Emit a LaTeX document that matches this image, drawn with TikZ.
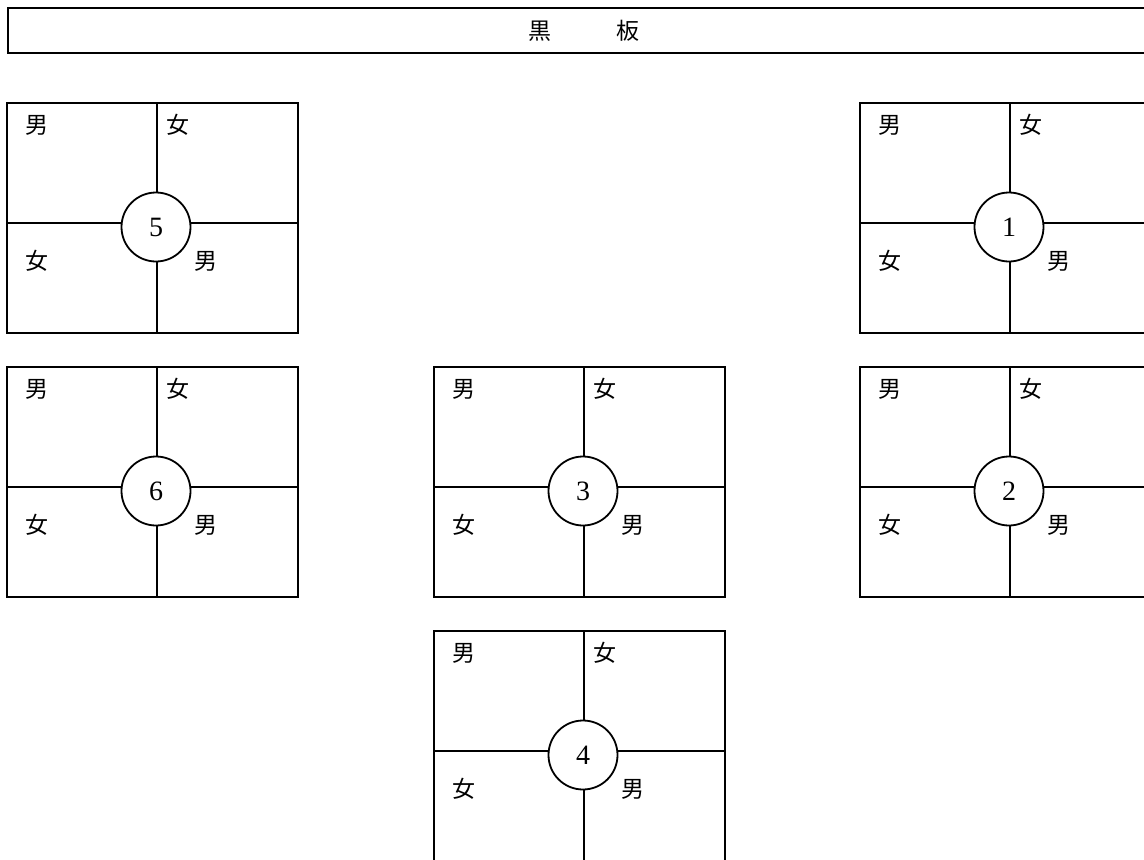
\documentclass[tikz,border=0pt]{standalone}
\usepackage{fontspec}
\newfontfamily\cjk{Noto Sans CJK JP}
\newfontfamily\numfont{Liberation Serif}
\tikzset{
  rule/.style={line width=1.8pt},
  seatlabel/.style={font=\cjk\fontsize{23}{23}\selectfont, inner sep=0pt},
  numcircle/.style={circle, draw, fill=white, line width=1.8pt, minimum size=69pt, inner sep=0pt, font=\numfont\fontsize{28}{28}\selectfont},
  boardbox/.style={draw, line width=2pt, minimum width=1152pt, minimum height=45pt, inner sep=0pt, anchor=north west, font=\cjk\fontsize{23}{23}\selectfont}
}
% #1 name, #2 x of vertical line, #3 y of horizontal line, #4 number
\newcommand\deskgroup[4]{%
  \coordinate (#1-tl) at (#2-150,#3-120);
  \coordinate (#1-br) at (#2+141,#3+110);
  \coordinate (#1-t) at (#2,#3-120);
  \coordinate (#1-b) at (#2,#3+110);
  \coordinate (#1-l) at (#2-150,#3);
  \coordinate (#1-r) at (#2+141,#3);
  \draw[rule] (#1-tl) rectangle (#1-br);
  \draw[rule] (#1-t) -- (#1-b);
  \draw[rule] (#1-l) -- (#1-r);
  \node[numcircle] (#1-c) at (#2-1,#3+4) {#4};
  \node[seatlabel] (#1-m1) at (#2-120,#3-98) {男};
  \node[seatlabel] (#1-f1) at (#2+21,#3-98) {女};
  \node[seatlabel] (#1-f2) at (#2-120,#3+38) {女};
  \node[seatlabel] (#1-m2) at (#2+49,#3+38) {男};
}
\begin{document}
\begin{tikzpicture}[x=1pt,y=-1pt]
\useasboundingbox (0,0) rectangle (1144,860);
\clip (0,0) rectangle (1144,860);
\node[boardbox] (board) at (7,7) {黒\hspace{66pt}板};
\deskgroup{d5}{157}{223}{5}
\deskgroup{d1}{1010}{223}{1}
\deskgroup{d6}{157}{487}{6}
\deskgroup{d3}{584}{487}{3}
\deskgroup{d2}{1010}{487}{2}
\deskgroup{d4}{584}{751}{4}
\end{tikzpicture}
\end{document}
